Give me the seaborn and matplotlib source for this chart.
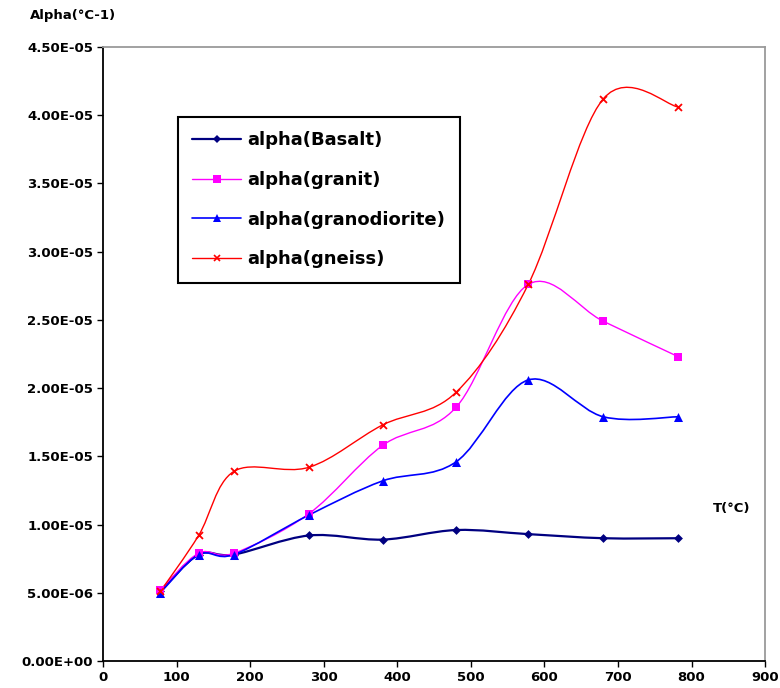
import numpy as np
import pandas as pd
import matplotlib
matplotlib.use("Agg")
import matplotlib.pyplot as plt
import seaborn as sns
from matplotlib.path import Path
from matplotlib.patches import PathPatch
from matplotlib.lines import Line2D
from matplotlib.ticker import FuncFormatter, MultipleLocator

temps = [78, 130, 178, 280, 380, 480, 578, 680, 782]
basalt = [5.1e-6, 7.8e-6, 7.8e-6, 9.2e-6, 8.9e-6, 9.6e-6, 9.3e-6, 9.0e-6, 9.0e-6]
granit = [5.2e-6, 7.9e-6, 7.9e-6, 1.08e-5, 1.58e-5, 1.86e-5, 2.76e-5, 2.49e-5, 2.23e-5]
granodiorite = [5.0e-6, 7.8e-6, 7.8e-6, 1.07e-5, 1.32e-5, 1.46e-5, 2.06e-5, 1.79e-5, 1.79e-5]
gneiss = [5.1e-6, 9.2e-6, 1.39e-5, 1.42e-5, 1.73e-5, 1.97e-5, 2.76e-5, 4.12e-5, 4.06e-5]

series_names = ["alpha(Basalt)", "alpha(granit)", "alpha(granodiorite)", "alpha(gneiss)"]
series_values = [basalt, granit, granodiorite, gneiss]
colors = ["#000080", "#FF00FF", "#0000FF", "#FF0000"]
markers = ["D", "s", "^", "x"]
marker_sizes = [4.5, 6, 6.5, 5]
line_widths = [1.6, 1.0, 1.2, 1.0]

XMAX = 900
YMAX = 4.5e-5


def smooth_path(xs, ys):
    # Excel-like smoothed line: cubic Bezier through the points, in axes coords
    pts = np.column_stack([np.asarray(xs) / XMAX, np.asarray(ys) / YMAX])
    verts = [pts[0]]
    codes = [Path.MOVETO]
    n = len(pts)
    for i in range(n - 1):
        p0 = pts[i - 1] if i > 0 else pts[i]
        p1 = pts[i]
        p2 = pts[i + 1]
        p3 = pts[i + 2] if i + 2 < n else pts[i + 1]
        c1 = p1 + (p2 - p0) / 6.0
        c2 = p2 - (p3 - p1) / 6.0
        verts += [c1, c2, p2]
        codes += [Path.CURVE4] * 3
    return Path(verts, codes)


def main() -> None:
    sns.set_theme(style="white")
    plt.rcParams["font.family"] = ["DejaVu Sans"]
    plt.rcParams["text.color"] = "black"
    plt.rcParams["xtick.color"] = "black"
    plt.rcParams["ytick.color"] = "black"
    plt.rcParams["axes.labelcolor"] = "black"

    df = pd.concat(
        [pd.DataFrame({"T": temps, "alpha": vals, "series": name})
         for name, vals in zip(series_names, series_values)],
        ignore_index=True,
    )

    fig = plt.figure(figsize=(7.8, 6.88), dpi=100)
    ax = fig.add_axes([0.132, 0.0392, 0.849, 0.8925])

    for name, vals, c, m, ms, lw in zip(series_names, series_values, colors,
                                        markers, marker_sizes, line_widths):
        ax.add_patch(PathPatch(smooth_path(temps, vals), transform=ax.transAxes,
                               facecolor="none", edgecolor=c, linewidth=lw, zorder=2))
        sub = df[df["series"] == name]
        sns.scatterplot(data=sub, x="T", y="alpha", ax=ax, color=c, marker=m,
                        s=ms ** 2, linewidth=1.3 if m == "x" else 0, edgecolor=c,
                        zorder=3, legend=False)

    ax.set_xlim(0, XMAX)
    ax.set_ylim(0, YMAX)
    ax.xaxis.set_major_locator(MultipleLocator(100))
    ax.yaxis.set_major_locator(MultipleLocator(5e-6))
    ax.yaxis.set_major_formatter(FuncFormatter(
        lambda v, p: "0.00E+00" if abs(v) < 1e-12 else f"{v:.2E}"))
    ax.set_xlabel("")
    ax.set_ylabel("")
    ax.tick_params(axis="both", which="major", direction="out", length=4, width=1,
                   color="black", labelcolor="black", labelsize=9.5, pad=3,
                   bottom=True, left=True)
    for lab in ax.get_xticklabels() + ax.get_yticklabels():
        lab.set_fontweight("bold")

    ax.spines["left"].set_color("black")
    ax.spines["bottom"].set_color("black")
    ax.spines["top"].set_color("#9a9a9a")
    ax.spines["right"].set_color("#9a9a9a")
    for s in ax.spines.values():
        s.set_linewidth(1.3)

    fig.text(0.038, 0.977, "Alpha(°C-1)", fontsize=9.5, fontweight="bold",
             va="center", ha="left", color="black")
    ax.text(0.949, 0.249, "T(°C)", transform=ax.transAxes, fontsize=9.5,
            fontweight="bold", ha="center", va="center", color="black")

    handles = [Line2D([0], [0], color=c, marker=m, markersize=ms * 0.85, lw=lw,
                      markeredgewidth=1.2 if m == "x" else 0)
               for c, m, ms, lw in zip(colors, markers, marker_sizes, line_widths)]
    leg = ax.legend(handles, series_names, loc="upper left", bbox_to_anchor=(0.113, 0.886),
                    frameon=True, fancybox=False, edgecolor="black", framealpha=1,
                    prop={"weight": "bold", "size": 13}, handlelength=2.7,
                    handletextpad=0.35, labelspacing=1.2, borderpad=0.8, borderaxespad=0,
                    labelcolor="black")
    leg.get_frame().set_linewidth(1.5)

    fig.savefig("out.png", dpi=100)
    plt.close(fig)


if __name__ == "__main__":
    main()
